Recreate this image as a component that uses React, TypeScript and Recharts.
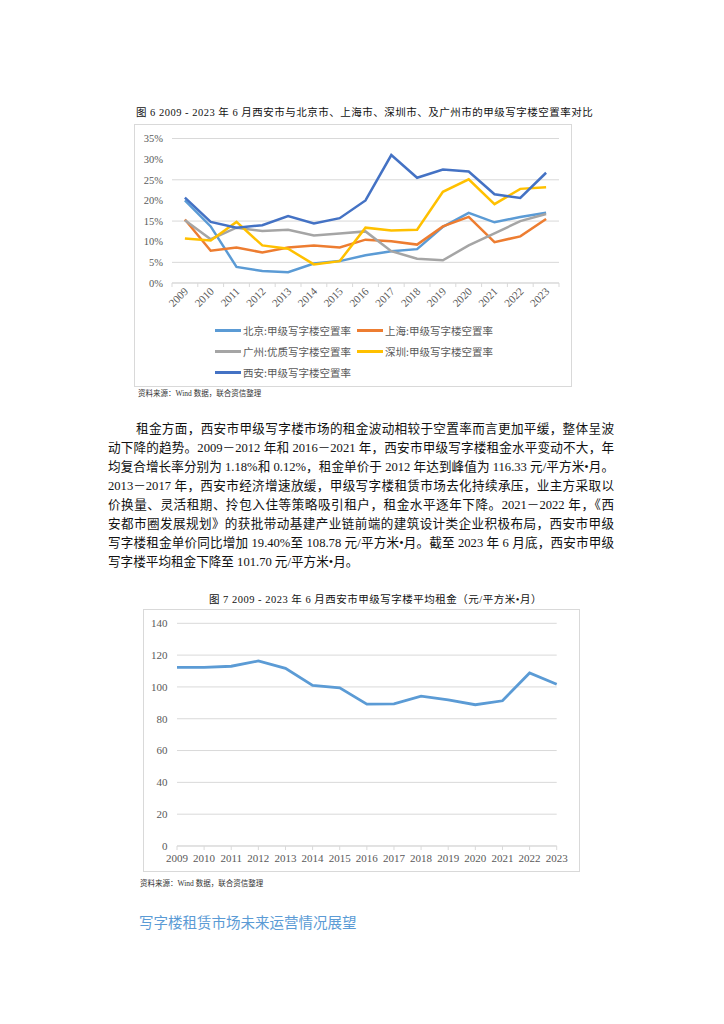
import { LineChart, Line, XAxis, YAxis, CartesianGrid } from "recharts";

// 图6 空置率 (%)
const years = ["2009", "2010", "2011", "2012", "2013", "2014", "2015", "2016", "2017", "2018", "2019", "2020", "2021", "2022", "2023"];
const beijing = [20.0, 13.7, 3.9, 2.9, 2.6, 4.7, 5.3, 6.7, 7.7, 8.2, 13.6, 17.0, 14.7, 16.0, 17.0];
const shanghai = [15.4, 7.8, 8.6, 7.4, 8.6, 9.1, 8.6, 10.5, 10.1, 9.3, 13.7, 16.0, 9.9, 11.3, 15.5];
const guangzhou = [15.2, 10.6, 13.4, 12.6, 12.9, 11.5, 12.0, 12.5, 7.7, 5.9, 5.5, 9.1, 12.0, 15.0, 16.7];
const shenzhen = [10.8, 10.3, 14.8, 9.1, 8.3, 4.5, 5.3, 13.4, 12.7, 12.9, 22.1, 25.1, 19.1, 22.8, 23.2];
const xian = [20.7, 14.8, 13.4, 14.0, 16.2, 14.4, 15.7, 20.0, 31.0, 25.5, 27.5, 27.0, 21.5, 20.6, 26.7];
const vacancyTicks = [0, 5, 10, 15, 20, 25, 30, 35];

// 图7 平均租金 (元/平方米•月)
const rent = [112.3, 112.3, 113.0, 116.33, 111.7, 101.0, 99.4, 89.2, 89.4, 94.2, 91.9, 88.8, 91.3, 108.78, 101.7];
const rentTicks = [0, 20, 40, 60, 80, 100, 120, 140];

const series = [
  { key: "beijing", name: "北京:甲级写字楼空置率", color: "#5B9BD5" },
  { key: "shanghai", name: "上海:甲级写字楼空置率", color: "#ED7D31" },
  { key: "guangzhou", name: "广州:优质写字楼空置率", color: "#A5A5A5" },
  { key: "shenzhen", name: "深圳:甲级写字楼空置率", color: "#FFC000" },
  { key: "xian", name: "西安:甲级写字楼空置率", color: "#4472C4" },
];

const vacancyRows = years.map((year, i) => ({
  year,
  beijing: beijing[i],
  shanghai: shanghai[i],
  guangzhou: guangzhou[i],
  shenzhen: shenzhen[i],
  xian: xian[i],
}));
const rentRows = years.map((year, i) => ({ year, rent: rent[i] }));

const paragraph = [
  "租金方面，西安市甲级写字楼市场的租金波动相较于空置率而言更加平缓，整体呈波",
  "动下降的趋势。2009－2012 年和 2016－2021 年，西安市甲级写字楼租金水平变动不大，年",
  "均复合增长率分别为 1.18%和 0.12%，租金单价于 2012 年达到峰值为 116.33 元/平方米•月。",
  "2013－2017 年，西安市经济增速放缓，甲级写字楼租赁市场去化持续承压，业主方采取以",
  "价换量、灵活租期、拎包入住等策略吸引租户，租金水平逐年下降。2021－2022 年，《西",
  "安都市圈发展规划》的获批带动基建产业链前端的建筑设计类企业积极布局，西安市甲级",
  "写字楼租金单价同比增加 19.40%至 108.78 元/平方米•月。截至 2023 年 6 月底，西安市甲级",
  "写字楼平均租金下降至 101.70 元/平方米•月。",
];

const FONT = '"Liberation Serif", "Noto Sans CJK SC", serif';
const GRID = "#D9D9D9";
const AXIS_TEXT = "#595959";
const HALF_BAND = 12.9;

function SlantTick(props: any) {
  const { x, y, payload } = props;
  const last = payload.value === years[years.length - 1];
  return (
    <g>
      <line x1={x - HALF_BAND} x2={x - HALF_BAND} y1={y} y2={y + 4} stroke={GRID} />
      {last && <line x1={x + HALF_BAND} x2={x + HALF_BAND} y1={y} y2={y + 4} stroke={GRID} />}
      <text
        x={x + 4}
        y={y + 9}
        transform={`rotate(-45 ${x + 4} ${y + 9})`}
        textAnchor="end"
        fill={AXIS_TEXT}
        fontSize={11}
        fontFamily={FONT}
      >
        {payload.value}
      </text>
    </g>
  );
}

const abs = (left: number, top: number, extra: any = {}) => ({ position: "absolute" as const, left, top, ...extra });

export default function App() {
  return (
    <div style={abs(0, 0, { width: 724, height: 1024, background: "#fff", fontFamily: FONT, color: "#111" })}>
      {/* 图6 */}
      <div style={abs(136, 106, { fontSize: 10.5, letterSpacing: 0.5, whiteSpace: "nowrap", lineHeight: "14px" })}>
        图 6 2009 - 2023 年 6 月西安市与北京市、上海市、深圳市、及广州市的甲级写字楼空置率对比
      </div>
      <div style={abs(134, 124, { width: 438, height: 263, border: `1px solid ${GRID}`, boxSizing: "border-box" })} />
      <div style={abs(134, 124)}>
        <LineChart width={438} height={200} data={vacancyRows} margin={{ top: 14.5, right: 13, left: 0, bottom: 0 }}>
          <CartesianGrid vertical={false} stroke={GRID} />
          <XAxis
            dataKey="year"
            interval={0}
            height={41}
            padding={{ left: HALF_BAND, right: HALF_BAND }}
            tickLine={false}
            tickSize={0}
            tickMargin={0}
            stroke={GRID}
            tick={<SlantTick />}
          />
          <YAxis
            width={38}
            domain={[0, 35]}
            ticks={vacancyTicks}
            tickFormatter={(v) => `${v}%`}
            axisLine={false}
            tickLine={false}
            tickSize={0}
            tickMargin={9}
            tick={{ fill: AXIS_TEXT, fontSize: 10.5, fontFamily: FONT }}
          />
          {series.map((s) => (
            <Line
              key={s.key}
              dataKey={s.key}
              name={s.name}
              stroke={s.color}
              strokeWidth={2.5}
              dot={false}
              type="linear"
              isAnimationActive={false}
            />
          ))}
        </LineChart>
      </div>
      {series.map((s, i) => {
        const col = i % 2;
        const row = Math.floor(i / 2);
        const left = col === 0 ? 215 : 357;
        const top = [330.7, 351.3, 372][row];
        return (
          <div key={s.key} style={abs(left, top - 7, { display: "flex", alignItems: "center", height: 14 })}>
            <span style={{ width: 26, height: 3, background: s.color, display: "inline-block", marginRight: 2 }} />
            <span style={{ fontSize: 10.5, color: AXIS_TEXT, fontFamily: '"Noto Sans CJK SC", sans-serif', whiteSpace: "nowrap" }}>
              {s.name}
            </span>
          </div>
        );
      })}
      <div style={abs(138, 389, { fontSize: 7.5, color: "#333", whiteSpace: "nowrap", lineHeight: "10px" })}>
        资料来源：Wind 数据，联合资信整理
      </div>

      {/* 正文 */}
      {paragraph.map((line, i) => (
        <div
          key={i}
          style={abs(i === 0 ? 136 : 108, 429.3 + i * 19.05 - 9.5, {
            width: i === 0 ? 478 : 506,
            fontSize: 12.6,
            lineHeight: "19px",
            textAlign: "justify",
            textAlignLast: i === paragraph.length - 1 ? "left" : "justify",
            whiteSpace: "nowrap",
          })}
        >
          {line}
        </div>
      ))}

      {/* 图7 */}
      <div style={abs(209, 593, { fontSize: 10.5, letterSpacing: 0.5, whiteSpace: "nowrap", lineHeight: "14px" })}>
        图 7 2009 - 2023 年 6 月西安市甲级写字楼平均租金（元/平方米•月）
      </div>
      <div style={abs(143, 609, { width: 437, height: 263, border: `1px solid ${GRID}`, boxSizing: "border-box" })} />
      <div style={abs(143, 609)}>
        <LineChart width={437} height={263} data={rentRows} margin={{ top: 14.3, right: 23.3, left: 0, bottom: 0 }}>
          <CartesianGrid vertical={false} stroke={GRID} />
          <XAxis
            dataKey="year"
            interval={0}
            height={26}
            stroke={GRID}
            tickSize={4}
            tickMargin={4}
            tick={{ fill: AXIS_TEXT, fontSize: 11, fontFamily: FONT }}
          />
          <YAxis
            width={34}
            domain={[0, 140]}
            ticks={rentTicks}
            axisLine={false}
            tickLine={false}
            tickSize={0}
            tickMargin={9.5}
            tick={{ fill: AXIS_TEXT, fontSize: 11, fontFamily: FONT }}
          />
          <Line dataKey="rent" stroke="#5B9BD5" strokeWidth={2.8} dot={false} type="linear" isAnimationActive={false} />
        </LineChart>
      </div>
      <div style={abs(140, 879, { fontSize: 7.5, color: "#333", whiteSpace: "nowrap", lineHeight: "10px" })}>
        资料来源：Wind 数据，联合资信整理
      </div>

      <div
        style={abs(139, 912, {
          fontSize: 14.5,
          color: "#5B9BD5",
          whiteSpace: "nowrap",
          lineHeight: "20px",
          fontFamily: '"Noto Sans CJK SC", sans-serif',
        })}
      >
        写字楼租赁市场未来运营情况展望
      </div>
    </div>
  );
}
